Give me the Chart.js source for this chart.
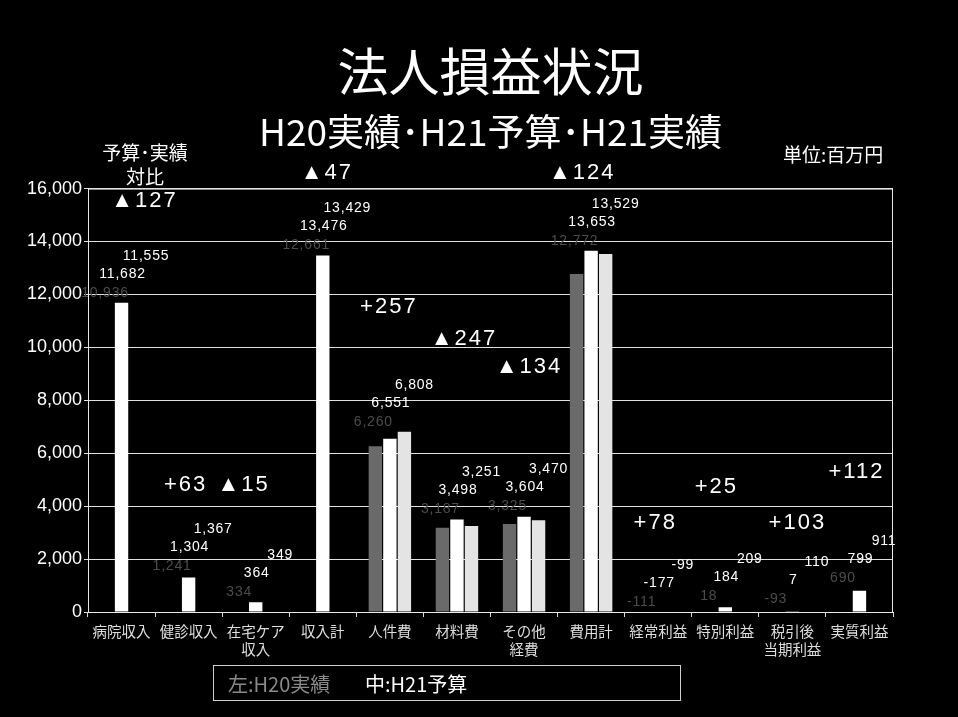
<!DOCTYPE html>
<html>
<head>
<meta charset="utf-8">
<script src="https://cdn.jsdelivr.net/npm/chart.js@4/dist/chart.umd.min.js"></script>
<style>
  html, body { margin: 0; padding: 0; background: #000; }
  #wrap { width: 958px; height: 717px; }
</style>
</head>
<body>
<div id="wrap"><canvas id="chart" width="958" height="717"></canvas></div>
<script>
// 法人損益状況（単位：百万円）
const categories = [
  '病院収入', '健診収入', ['在宅ケア', '収入'], '収入計',
  '人件費', '材料費', ['その他', '経費'], '費用計',
  '経常利益', '特別利益', ['税引後', '当期利益'], '実質利益'
];
const seriesNames = ['H20実績', 'H21予算', 'H21実績'];
const h20Actual = [10936, 1241, 334, 12661, 6260, 3187, 3325, 12772, -111, 18, -93, 690];
const h21Budget = [11682, 1304, 364, 13476, 6551, 3498, 3604, 13653, -177, 184, 7, 799];
const h21Actual = [11555, 1367, 349, 13429, 6808, 3251, 3470, 13529, -99, 209, 110, 911];
const yTicks = [0, 2000, 4000, 6000, 8000, 10000, 12000, 14000, 16000];

const JP = '"Noto Sans CJK JP", "Noto Sans", sans-serif';
const LAT = '"Liberation Sans", Arial, sans-serif';

// side bars (H20実績 / H21実績) are only drawn for the expense groups
const sideBarsShown = [4, 5, 6, 7];
const sideColor = (color) => (ctx) => sideBarsShown.includes(ctx.dataIndex) ? color : 'rgba(0,0,0,0)';

const fmt = (v) => v.toLocaleString('en-US');
const diffText = (d) => d < 0 ? '▲' + Math.abs(d) : '+' + d;

// placement of the 予算・実績 difference notes: [value level, x shift in px]
const notePlacement = [
  [15550, 23], [4790, -3], [4790, -12], [16600, 4],
  [11510, -1], [10300, 7], [9250, 5], [16600, -9],
  [3360, -3], [4720, -9], [3360, 5], [5280, -3]
];

const labelPlugin = {
  id: 'valueLabels',
  afterDatasetsDraw(chart) {
    const { ctx, scales: { y } } = chart;
    const metas = [0, 1, 2].map(i => chart.getDatasetMeta(i));
    const lift = [10, 29, 47];
    const shift = [-2, 1, 10];
    const colors = ['#4c4c4c', '#ffffff', '#ffffff'];
    ctx.save();
    ctx.font = '14px ' + LAT;
    ctx.letterSpacing = '0.8px';
    ctx.textAlign = 'center';
    ctx.textBaseline = 'middle';
    categories.forEach((c, j) => {
      let top = Infinity;
      metas.forEach((m, i) => {
        const v = chart.data.datasets[i].data[j];
        top = Math.min(top, y.getPixelForValue(Math.max(0, v)));
      });
      metas.forEach((m, i) => {
        const v = chart.data.datasets[i].data[j];
        ctx.fillStyle = colors[i];
        ctx.fillText(fmt(v), m.data[j].x + shift[i], top - lift[i]);
      });
    });
    // difference notes (実績 − 予算)
    ctx.font = '22px ' + LAT;
    ctx.letterSpacing = '2px';
    ctx.fillStyle = '#ffffff';
    const mid = metas[1];
    categories.forEach((c, j) => {
      const d = h21Actual[j] - h21Budget[j];
      const [level, dx] = notePlacement[j];
      ctx.fillText(diffText(d), mid.data[j].x + dx, y.getPixelForValue(level));
    });
    ctx.restore();
  }
};

const framePlugin = {
  id: 'frameAndNotes',
  afterDraw(chart) {
    const { ctx, chartArea: a } = chart;
    ctx.save();
    ctx.strokeStyle = '#e8e8e8';
    ctx.lineWidth = 1;
    ctx.strokeRect(a.left + 0.5, a.top + 0.5, a.right - a.left - 1, a.bottom - a.top);

    ctx.fillStyle = '#ffffff';
    ctx.textAlign = 'center';
    ctx.textBaseline = 'middle';
    ctx.font = '19px ' + JP;
    ctx.fillText('予算･実績', 145, 153);
    ctx.fillText('対比', 145, 177);
    ctx.textAlign = 'left';
    ctx.fillText('単位:百万円', 783, 155);

    // legend box
    ctx.strokeStyle = '#d0d0d0';
    ctx.strokeRect(213.5, 665.5, 467, 35);
    ctx.font = '20px ' + JP;
    ctx.fillStyle = '#8a8a8a';
    ctx.fillText('左:' + seriesNames[0], 228, 684);
    ctx.fillStyle = '#ffffff';
    ctx.fillText('中:' + seriesNames[1], 365, 684);
    ctx.restore();
  }
};

new Chart(document.getElementById('chart'), {
  type: 'bar',
  data: {
    labels: categories,
    datasets: [
      { label: seriesNames[0], data: h20Actual, backgroundColor: sideColor('#6a6a6a') },
      { label: seriesNames[1], data: h21Budget, backgroundColor: '#ffffff' },
      { label: seriesNames[2], data: h21Actual, backgroundColor: sideColor('#e4e4e4') }
    ]
  },
  options: {
    responsive: false,
    animation: false,
    devicePixelRatio: 1,
    layout: { padding: { left: 0, right: 65, top: 0, bottom: 0 } },
    datasets: { bar: { categoryPercentage: 0.65, barPercentage: 0.92 } },
    plugins: {
      legend: { display: false },
      tooltip: { enabled: false },
      title: {
        display: true, fullSize: false, text: '法人損益状況', color: '#ffffff',
        font: { family: JP, size: 51, weight: 'normal', lineHeight: 1.2 },
        padding: { top: 41, bottom: 0 }
      },
      subtitle: {
        display: true, fullSize: false, text: 'H20実績･H21予算･H21実績', color: '#ffffff',
        font: { family: JP, size: 37, weight: 'normal', lineHeight: 1.2 },
        padding: { top: 8, bottom: 34 }
      }
    },
    scales: {
      x: {
        afterFit: (s) => { s.height = 105; },
        grid: { display: true, drawOnChartArea: false, offset: true, color: '#d8d8d8', tickLength: 5 },
        border: { color: '#ffffff', width: 1 },
        ticks: { color: '#dddddd', padding: 6, maxRotation: 0, autoSkip: false,
                 font: { family: JP, size: 14.5, lineHeight: 1.2 } }
      },
      y: {
        min: 0, max: 16000,
        afterFit: (s) => { s.width = 88; },
        afterBuildTicks: (s) => { s.ticks = yTicks.map(v => ({ value: v })); },
        grid: { color: '#e0e0e0', lineWidth: 1, tickLength: 4 },
        border: { color: '#ffffff', width: 1 },
        ticks: { color: '#ffffff', padding: 2, font: { family: LAT, size: 18 },
                 callback: (v) => fmt(v) }
      }
    }
  },
  plugins: [labelPlugin, framePlugin]
});
</script>
</body>
</html>
